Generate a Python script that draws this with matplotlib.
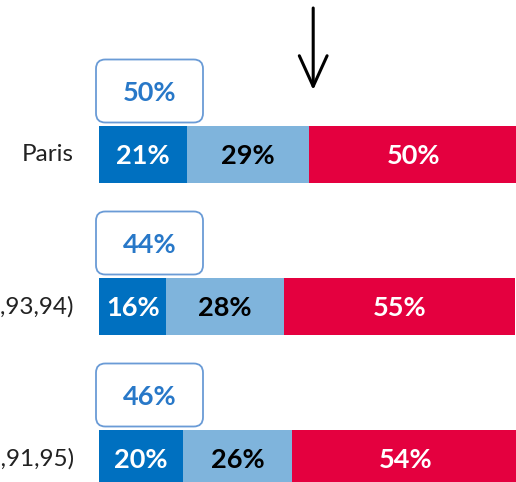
import matplotlib
matplotlib.use("Agg")
import matplotlib.pyplot as plt
from matplotlib.patches import FancyBboxPatch

plt.rcParams['font.family'] = ['Lato', 'DejaVu Sans']

categories = ["Paris", "Petite couronne (92,93,94)", "Grande couronne (77,78,91,95)"]
seg1 = [21, 16, 20]
seg2 = [29, 28, 26]
seg3 = [50, 55, 54]
box_labels = ["50%", "44%", "46%"]

c1, c2, c3 = "#0070C0", "#7FB4DC", "#E4003F"

W, H = 516, 482
fig = plt.figure(figsize=(W / 100, H / 100), dpi=100)
x0_px, px_per_pct = 99, 4.2
left = x0_px / W
width = 100 * px_per_pct / W
ax = fig.add_axes([left, 0, width, 1])
row_px = 152
ax.set_xlim(0, 100)
ax.set_ylim((H - 154.5) / row_px, -154.5 / row_px)
ax.axis('off')

ys = list(range(len(categories)))
bh = 57 / row_px
ax.barh(ys, seg1, height=bh, color=c1, edgecolor='none')
ax.barh(ys, seg2, left=seg1, height=bh, color=c2, edgecolor='none')
lefts3 = [a + b for a, b in zip(seg1, seg2)]
ax.barh(ys, seg3, left=lefts3, height=bh, color=c3, edgecolor='none')

fs_bar = 19.5
for i, y in enumerate(ys):
    ax.text(seg1[i] / 2, y + 0.01, f"{seg1[i]}%", ha='center', va='center', color='white',
            fontsize=fs_bar, fontweight='bold')
    ax.text(seg1[i] + seg2[i] / 2, y + 0.01, f"{seg2[i]}%", ha='center', va='center', color='black',
            fontsize=fs_bar, fontweight='bold')
    ax.text(lefts3[i] + seg3[i] / 2, y + 0.01, f"{seg3[i]}%", ha='center', va='center', color='white',
            fontsize=fs_bar, fontweight='bold')
    ax.text(-6, y, categories[i], ha='right', va='center', color='#222222', fontsize=17.5,
            clip_on=False)
    # rounded box above
    bx0 = (96 - x0_px) / px_per_pct
    bw = 107 / px_per_pct
    by0 = y - 95 / row_px
    bhh = 63 / row_px
    patch = FancyBboxPatch((bx0, by0), bw, bhh,
                           boxstyle="round,pad=0,rounding_size=2.2",
                           mutation_aspect=px_per_pct / row_px,
                           facecolor='white', edgecolor='#6A9BD6', linewidth=1.3,
                           clip_on=False)
    ax.add_patch(patch)
    ax.text(bx0 + bw / 2, by0 + bhh / 2 + 0.01, box_labels[i], ha='center', va='center',
            color='#2878C8', fontsize=fs_bar, fontweight='bold')

ax.annotate('', xy=(51, (90 - 154.5) / row_px), xytext=(51, (8 - 154.5) / row_px),
            arrowprops=dict(arrowstyle='->,head_length=1.1,head_width=0.5', color='black',
                            lw=2.2, mutation_scale=20, shrinkA=0, shrinkB=0),
            annotation_clip=False)

fig.savefig('out.png', dpi=100)
